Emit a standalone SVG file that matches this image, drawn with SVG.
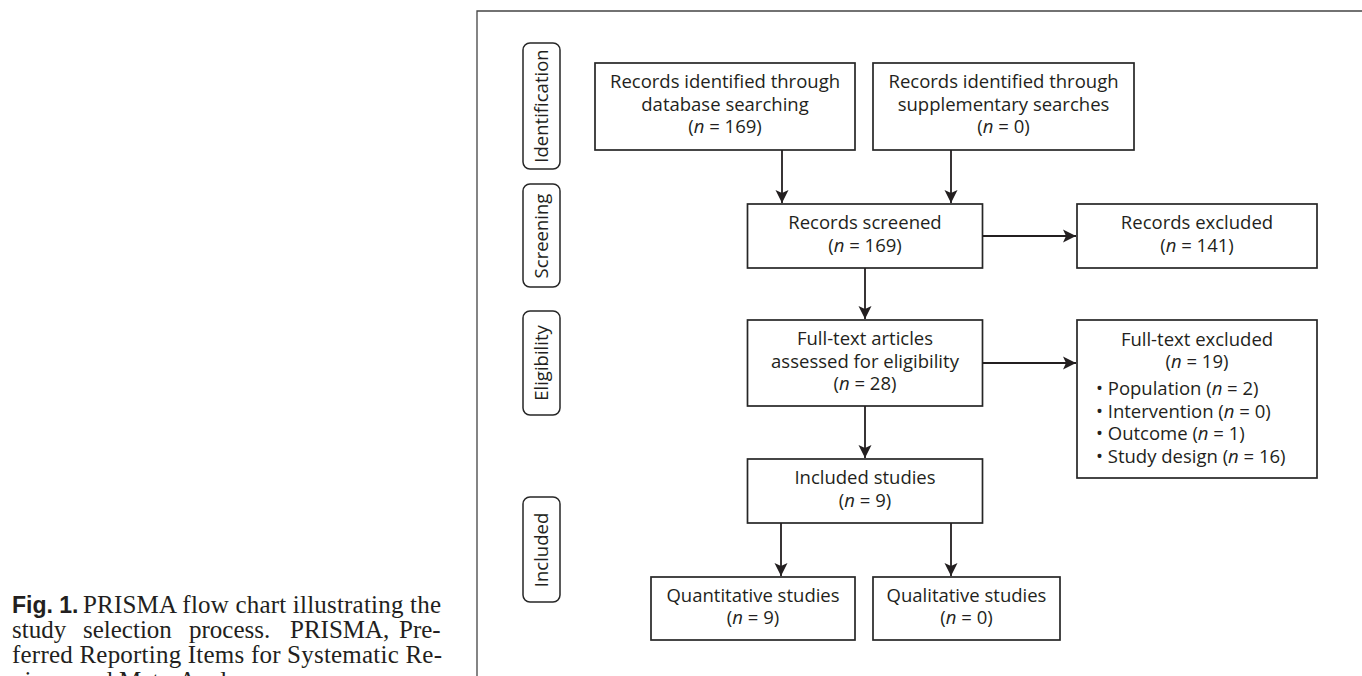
<svg xmlns="http://www.w3.org/2000/svg" width="1362" height="676" viewBox="0 0 1362 676">
<style>
.box{fill:#fff;stroke:#262626;stroke-width:1.7}
.lab{fill:#fff;stroke:#262626;stroke-width:1.5}
.t{font-family:"Open Sans","Noto Sans",sans-serif;font-size:18.5px;fill:#231f20;text-anchor:middle}
.ts{text-anchor:start}
.i{font-style:italic}
.conn{stroke:#231f20;stroke-width:1.8;fill:none;marker-end:url(#ah)}
.cap{font-family:"Liberation Serif","Times New Roman",serif;font-size:25px;fill:#231f20}
.capb{font-family:"Liberation Sans",Arial,sans-serif;font-weight:bold;font-size:23px}
</style>
<defs>
<marker id="ah" markerUnits="userSpaceOnUse" markerWidth="16" markerHeight="16" viewBox="-14 -8 16 16" refX="0" refY="0" orient="auto">
<path d="M0,0 L-13,-6.5 L-10,0 L-13,6.5 Z" fill="#231f20"/>
</marker>
</defs>
<rect width="1362" height="676" fill="#fff"/>
<path d="M1362,11 H477 V676" fill="none" stroke="#444" stroke-width="1.3"/>

<g id="caption">
<text class="cap" x="12" y="613"><tspan class="capb">Fig. 1.</tspan><tspan x="83" textLength="358" lengthAdjust="spacing">PRISMA flow chart illustrating the</tspan></text>
<text class="cap" y="638"><tspan x="12">study</tspan><tspan x="83">selection</tspan><tspan x="189">process.</tspan><tspan x="290">PRISMA,</tspan><tspan x="399">Pre-</tspan></text>
<text class="cap" x="12" y="663" textLength="430" lengthAdjust="spacing">ferred Reporting Items for Systematic Re-</text>
<text class="cap" x="12" y="689">views and Meta-Analyses</text>
</g>

<g id="phase-identification">
<rect class="lab" x="523" y="43" width="37" height="126" rx="7"/>
<text class="t" transform="translate(548,106) rotate(-90)">Identification</text>
</g>
<g id="phase-screening">
<rect class="lab" x="523" y="184" width="37" height="103" rx="7"/>
<text class="t" transform="translate(548,236) rotate(-90)">Screening</text>
</g>
<g id="phase-eligibility">
<rect class="lab" x="523" y="311" width="37" height="104" rx="7"/>
<text class="t" transform="translate(548,363) rotate(-90)">Eligibility</text>
</g>
<g id="phase-included">
<rect class="lab" x="523" y="497" width="37" height="105" rx="7"/>
<text class="t" transform="translate(548,550) rotate(-90)">Included</text>
</g>

<g id="db">
<rect class="box" x="595" y="63" width="260" height="87"/>
<text class="t" x="725" y="88">Records identified through</text>
<text class="t" x="725" y="111">database searching</text>
<text class="t" x="725" y="133">(<tspan class="i">n</tspan> = 169)</text>
</g>
<g id="supp">
<rect class="box" x="873" y="63" width="261" height="87"/>
<text class="t" x="1003.5" y="88">Records identified through</text>
<text class="t" x="1003.5" y="111">supplementary searches</text>
<text class="t" x="1003.5" y="133">(<tspan class="i">n</tspan> = 0)</text>
</g>
<g id="screened">
<rect class="box" x="747.5" y="204" width="235" height="64"/>
<text class="t" x="865" y="229">Records screened</text>
<text class="t" x="865" y="251.5">(<tspan class="i">n</tspan> = 169)</text>
</g>
<g id="excluded">
<rect class="box" x="1077" y="204" width="240" height="64"/>
<text class="t" x="1197" y="229">Records excluded</text>
<text class="t" x="1197" y="251.5">(<tspan class="i">n</tspan> = 141)</text>
</g>
<g id="fulltext">
<rect class="box" x="747.5" y="320" width="235" height="86"/>
<text class="t" x="865" y="345">Full-text articles</text>
<text class="t" x="865" y="367.5">assessed for eligibility</text>
<text class="t" x="865" y="390">(<tspan class="i">n</tspan> = 28)</text>
</g>
<g id="ft-excluded">
<rect class="box" x="1077" y="320" width="240" height="158"/>
<text class="t" x="1197" y="345.5">Full-text excluded</text>
<text class="t" x="1197" y="368">(<tspan class="i">n</tspan> = 19)</text>
<text class="t ts" x="1096" y="395">• Population (<tspan class="i">n</tspan> = 2)</text>
<text class="t ts" x="1096" y="417.5">• Intervention (<tspan class="i">n</tspan> = 0)</text>
<text class="t ts" x="1096" y="440">• Outcome (<tspan class="i">n</tspan> = 1)</text>
<text class="t ts" x="1096" y="462.5">• Study design (<tspan class="i">n</tspan> = 16)</text>
</g>
<g id="included">
<rect class="box" x="747.5" y="459" width="235" height="64"/>
<text class="t" x="865" y="484">Included studies</text>
<text class="t" x="865" y="506.5">(<tspan class="i">n</tspan> = 9)</text>
</g>
<g id="quant">
<rect class="box" x="651" y="577" width="204" height="63"/>
<text class="t" x="753" y="601.5">Quantitative studies</text>
<text class="t" x="753" y="624">(<tspan class="i">n</tspan> = 9)</text>
</g>
<g id="qual">
<rect class="box" x="873" y="577" width="187" height="63"/>
<text class="t" x="966.5" y="601.5">Qualitative studies</text>
<text class="t" x="966.5" y="624">(<tspan class="i">n</tspan> = 0)</text>
</g>

<g id="connectors">
<path class="conn" d="M782,150 V203"/>
<path class="conn" d="M951,150 V203"/>
<path class="conn" d="M982.5,236 H1076"/>
<path class="conn" d="M865,268 V319"/>
<path class="conn" d="M982.5,363 H1076"/>
<path class="conn" d="M865,406 V458"/>
<path class="conn" d="M781,523 V576"/>
<path class="conn" d="M951,523 V576"/>
</g>
</svg>
